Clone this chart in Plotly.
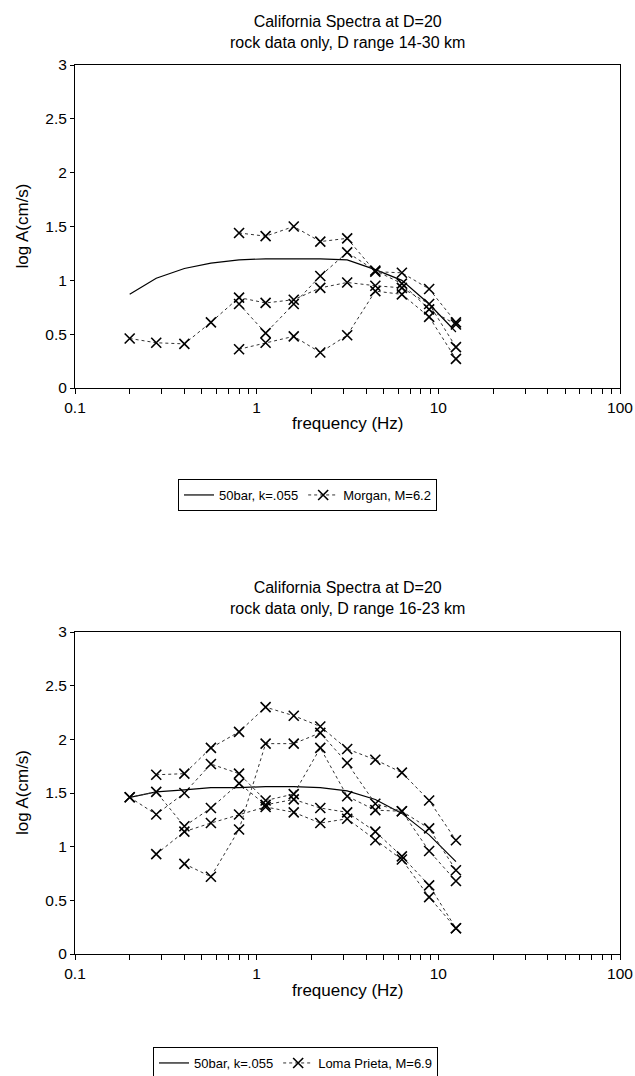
import plotly.graph_objects as go

# ---------------- data ----------------
freq = [0.2, 0.28, 0.4, 0.56, 0.8, 1.12, 1.6, 2.24, 3.15, 4.5, 6.3, 8.9, 12.5]

# top panel (Morgan, M=6.2), D range 14-30 km
model_top = [0.87, 1.02, 1.11, 1.16, 1.19, 1.20, 1.20, 1.20, 1.19, 1.10, 1.00, 0.78, 0.52]
morgan_1 = [0.46, 0.42, 0.41, 0.61, 0.84, 0.79, 0.82, 0.93, 0.98, 0.95, 0.93, 0.78, 0.38]
morgan_2 = [None, None, None, None, 1.44, 1.41, 1.50, 1.36, 1.39, 1.08, 1.07, 0.92, 0.61]
morgan_3 = [None, None, None, None, 0.78, 0.51, 0.78, 1.04, 1.26, 1.09, 0.97, 0.73, 0.59]
morgan_4 = [None, None, None, None, 0.36, 0.42, 0.48, 0.33, 0.49, 0.90, 0.87, 0.66, 0.27]

# bottom panel (Loma Prieta, M=6.9), D range 16-23 km
model_bot = [1.46, 1.51, 1.53, 1.55, 1.55, 1.56, 1.56, 1.55, 1.52, 1.44, 1.31, 1.11, 0.86]
loma_1 = [1.46, 1.51, 1.19, 1.36, 1.59, 1.39, 1.44, 1.36, 1.32, 1.14, 0.91, 0.64, 0.24]
loma_2 = [1.46, 1.30, 1.50, 1.77, 1.68, 1.43, 1.49, 1.92, 1.47, 1.34, 1.33, 0.96, 0.68]
loma_3 = [None, 1.67, 1.68, 1.92, 2.07, 2.30, 2.22, 2.12, 1.91, 1.81, 1.69, 1.43, 1.06]
loma_4 = [None, 0.93, 1.14, 1.22, 1.30, 1.37, 1.32, 1.22, 1.26, 1.06, 0.88, 0.53, 0.24]
loma_5 = [None, None, 0.84, 0.72, 1.16, 1.96, 1.96, 2.06, 1.78, 1.40, 1.33, 1.17, 0.78]

titles = ["California Spectra at D=20<br>rock data only, D range 14-30 km",
          "California Spectra at D=20<br>rock data only, D range 16-23 km"]
model_label = "50bar, k=.055"
top_label = "Morgan, M=6.2"
bot_label = "Loma Prieta, M=6.9"
y_ticks = [0, 0.5, 1, 1.5, 2, 2.5, 3]
y_ticktext = ["0", "0.5", "1", "1.5", "2", "2.5", "3"]
x_ticks = [0.1, 1, 10, 100]
x_ticktext = ["0.1", "1", "10", "100"]
x_minor = [m * d for d in (0.1, 1, 10) for m in range(2, 10)]

W, H = 635, 1076
FONT = "Liberation Sans, Arial, sans-serif"

fig = go.Figure()

def add_model(y, xa, ya, leg):
    fig.add_trace(go.Scatter(x=freq, y=y, mode="lines", xaxis=xa, yaxis=ya,
                             line=dict(color="black", width=1.2),
                             name=model_label, legend=leg, showlegend=True))

def add_obs(y, xa, ya, leg, name, show):
    fig.add_trace(go.Scatter(x=freq, y=y, mode="lines+markers", xaxis=xa, yaxis=ya,
                             line=dict(color="#333333", width=1, dash="dot"),
                             marker=dict(symbol="x-thin", size=10,
                                         line=dict(color="black", width=1.6)),
                             name=name, legend=leg, showlegend=show))

add_model(model_top, "x", "y", "legend")
for i, s in enumerate([morgan_1, morgan_2, morgan_3, morgan_4]):
    add_obs(s, "x", "y", "legend", top_label, i == 0)

add_model(model_bot, "x2", "y2", "legend2")
for i, s in enumerate([loma_1, loma_2, loma_3, loma_4, loma_5]):
    add_obs(s, "x2", "y2", "legend2", bot_label, i == 0)

xd = [75 / W, 620 / W]
top_dom = [1 - 388 / H, 1 - 65 / H]
bot_dom = [1 - 954 / H, 1 - 632 / H]

xaxis_common = dict(type="log", range=[-1, 2], domain=xd, showline=True, linecolor="black",
                    linewidth=1, mirror=True, ticks="outside", ticklen=5, tickcolor="black",
                    tickvals=x_ticks, ticktext=x_ticktext, showgrid=False, zeroline=False,
                    automargin=False, tickfont=dict(size=15.5, color="black"),
                    minor=dict(tickvals=x_minor, ticks="outside", ticklen=5, tickcolor="black",
                               showgrid=False))
yaxis_common = dict(range=[0, 3], showline=True, linecolor="black", linewidth=1, mirror=True,
                    ticks="outside", ticklen=4, tickcolor="black", tickvals=y_ticks,
                    ticktext=y_ticktext, showgrid=False, zeroline=False, automargin=False,
                    tickfont=dict(size=15.5, color="black"))

fig.update_layout(
    width=W, height=H, margin=dict(l=0, r=0, t=0, b=0, autoexpand=False),
    paper_bgcolor="white", plot_bgcolor="white",
    font=dict(family=FONT, color="black", size=13),
    xaxis=dict(xaxis_common, anchor="y"),
    yaxis=dict(yaxis_common, domain=top_dom, anchor="x"),
    xaxis2=dict(xaxis_common, anchor="y2"),
    yaxis2=dict(yaxis_common, domain=bot_dom, anchor="x2"),
    legend=dict(orientation="h", x=178 / W, y=1 - 479 / H, xanchor="left", yanchor="top",
                bordercolor="black", borderwidth=1, font=dict(size=13), itemwidth=30),
    legend2=dict(orientation="h", x=153 / W, y=1 - 1047 / H, xanchor="left", yanchor="top",
                 bordercolor="black", borderwidth=1, font=dict(size=13), itemwidth=30),
    showlegend=True,
)

ann = []
for t, ymid_title, yplot_mid, yx in [(titles[0], 32, (65 + 388) / 2, 424),
                                     (titles[1], 598, (632 + 954) / 2, 990)]:
    ann.append(dict(text=t, x=347.5 / W, y=1 - ymid_title / H, xref="paper", yref="paper",
                    showarrow=False, font=dict(size=16), xanchor="center", yanchor="middle"))
    ann.append(dict(text="log A(cm/s)", x=22 / W, y=1 - yplot_mid / H, xref="paper",
                    yref="paper", showarrow=False, textangle=-90, font=dict(size=17),
                    xanchor="center", yanchor="middle"))
    ann.append(dict(text="frequency (Hz)", x=347.5 / W, y=1 - yx / H, xref="paper",
                    yref="paper", showarrow=False, font=dict(size=17),
                    xanchor="center", yanchor="middle"))
fig.update_layout(annotations=ann)

fig.write_html("out.html")
